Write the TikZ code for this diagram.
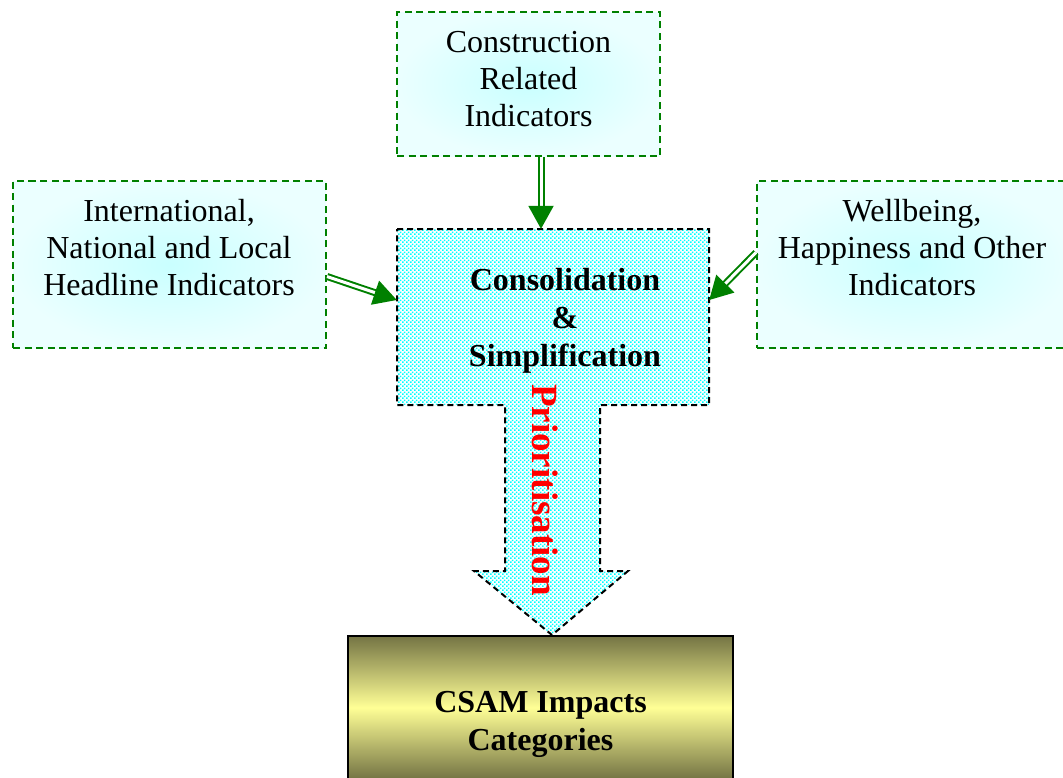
\documentclass[tikz,border=0pt]{standalone}
\usepackage{fontspec}
\setmainfont{Liberation Serif}
\usetikzlibrary{arrows.meta,patterns.meta}

% staggered cyan dot texture for the consolidation block
\tikzdeclarepattern{
  name=cyandots,
  type=uncolored,
  bottom left={(0pt,0pt)},
  top right={(4.2pt,4.2pt)},
  tile size={(4.2pt,4.2pt)},
  code={
    \fill (0pt,0pt) rectangle (2pt,2pt);
    \fill (2.1pt,2.1pt) rectangle (4.1pt,4.1pt);
  }
}

\definecolor{boxgreen}{RGB}{0,128,0}
\definecolor{olivedark}{RGB}{116,116,68}
\definecolor{paleyellow}{RGB}{255,255,150}

\tikzset{
  ibox/.style={draw=boxgreen, line width=2pt, dash pattern=on 7pt off 4.5pt,
    inner color=cyan!21, outer color=cyan!8, inner sep=0pt},
  txt/.style={align=center, inner sep=0pt, font=\fontsize{32}{37}\selectfont},
  btxt/.style={align=center, inner sep=0pt, font=\fontsize{32}{38}\selectfont\bfseries},
  feed/.style={draw=boxgreen, line width=2pt, double=white, double distance=3pt,
    -{Triangle[length=23pt,width=25pt,fill=boxgreen]}},
  flowblock/.style={draw=black, line width=2pt, dash pattern=on 6pt off 4pt,
    preaction={fill=white}, pattern=cyandots, pattern color=cyan},
}

\begin{document}
\begin{tikzpicture}[x=1pt,y=-1pt]
\useasboundingbox (0,0) rectangle (1063,777);

% indicator sources
\node[ibox, minimum width=263pt, minimum height=144pt] (top) at (528.5,84) {};
\node[txt] (toptext) at (528.5,79) {Construction\\Related\\Indicators};

\node[ibox, minimum width=313pt, minimum height=167pt] (left) at (169.5,264.5) {};
\node[txt] (lefttext) at (169,248) {International,\\National and Local\\Headline Indicators};

\node[ibox, minimum width=312pt, minimum height=167pt] (right) at (913,264.5) {};
\node[txt] (righttext) at (912,248) {Wellbeing,\\Happiness and Other\\Indicators};

% consolidation block with its downward prioritisation arrow
\node[minimum width=312pt, minimum height=176pt, inner sep=0pt] (cons) at (553,317) {};
\draw[flowblock]
  (397,229) -- (709,229) -- (709,405) -- (600,405) -- (600,571) -- (628,571)
  -- (552,635) -- (474,571) -- (505,571) -- (505,405) -- (397,405) -- cycle;
\node[btxt] (constext) at (565,321) {Consolidation\\\&\\Simplification};
\node[inner sep=0pt, rotate=-90, text=red,
  font=\fontsize{37}{40}\selectfont\bfseries] (prio) at (545,490) {Prioritisation};

% outcome
\node[draw=black, line width=1.8pt, minimum width=385pt, minimum height=143pt,
  top color=olivedark, bottom color=olivedark, middle color=paleyellow]
  (csam) at (540.5,707.5) {};
\node[btxt] (csamtext) at (540.5,724) {CSAM Impacts\\Categories};

% feeding arrows
\draw[feed] ([xshift=12.5pt]top.south) -- ([xshift=12.5pt]top.south |- cons.north);
\draw[feed] ([yshift=-12pt]left.east) -- ([yshift=17pt]cons.west);
\draw[feed] ([yshift=12pt]right.west) -- ([yshift=17pt]cons.east);
\end{tikzpicture}
\end{document}
